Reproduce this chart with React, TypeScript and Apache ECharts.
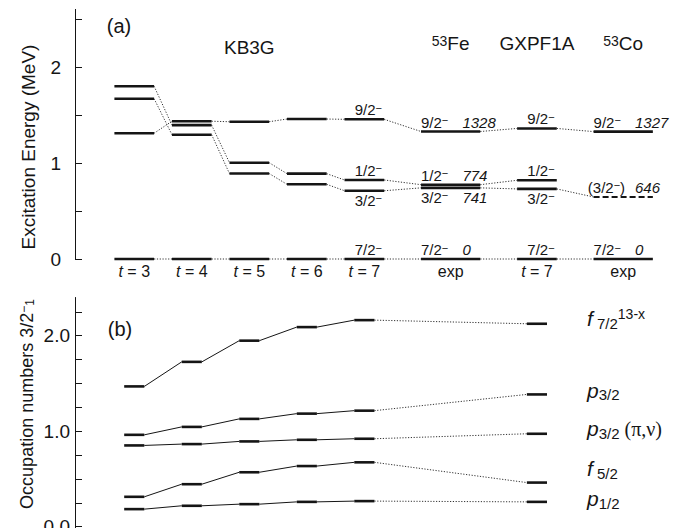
import React, { useEffect, useRef } from 'react';
import * as echarts from 'echarts';

const FONT = '"Liberation Sans", Arial, Helvetica, sans-serif';
const INK = '#151515';

// ---------------- Panel (a): excitation energies (MeV) ----------------
const colPos = [0, 1, 2, 3, 4, 5.5, 7, 8.5];
const colLabels = ['t = 3', 't = 4', 't = 5', 't = 6', 't = 7', 'exp', 't = 7', 'exp'];
const colExp = [false, false, false, false, false, true, false, true];
const e92: (number | null)[] = [1.31, 1.435, 1.43, 1.458, 1.455, 1.328, 1.36, 1.327];
const e12: (number | null)[] = [1.8, 1.395, 1.003, 0.889, 0.823, 0.774, 0.82, null];
const e32: (number | null)[] = [1.67, 1.295, 0.89, 0.778, 0.711, 0.741, 0.73, 0.646];
const e72: (number | null)[] = [0, 0, 0, 0, 0, 0, 0, 0];
const spinNames = ['9/2', '1/2', '3/2', '7/2'];
const feKeV = [1328, 774, 741, 0];
const coKeV: (number | null)[] = [1327, null, 646, 0];
const headerTexts = ['KB3G', '{sup|53}Fe', 'GXPF1A', '{sup|53}Co'];
const headerCols = [2, 5.5, 7, 8.5];

// ---------------- Panel (b): occupation numbers ----------------
const occCols = [0, 1, 2, 3, 4, 7];
const occF72 = [1.469, 1.726, 1.948, 2.09, 2.163, 2.125];
const occP32 = [0.962, 1.045, 1.129, 1.184, 1.215, 1.385];
const occP32pn = [0.851, 0.865, 0.893, 0.91, 0.921, 0.973];
const occF52 = [0.313, 0.445, 0.57, 0.635, 0.674, 0.462];
const occP12 = [0.184, 0.219, 0.236, 0.26, 0.268, 0.26];
const occNames = [
  '{it|f}{sub| 7/2}{sup|13-x}',
  '{it|p}{sub|3/2}',
  '{it|p}{sub|3/2}{gr| (π,ν)}',
  '{it|f}{sub| 5/2}',
  '{it|p}{sub|1/2}',
];
// vertical nudges (px) of the right-hand orbital names
const occNameDy = [-5, -4, -5, -14, -3];

const HW_CALC = 0.345;
const HW_EXP = 0.515;
const HW_OCC = 0.175;

type Seg = number[]; // x1,y1,x2,y2,kind (0 level, 1 dashed level, 2 dotted, 3 thin solid)
type Lbl = {
  x: number; y: number; text: string; align: string; va: string; dy: number;
  size: number; italic?: boolean;
};

function buildA() {
  const sets = [e92, e12, e32, e72];
  const conn: Seg[] = [];
  const lev: Seg[] = [];
  sets.forEach((arr, si) => {
    arr.forEach((v, i) => {
      if (v == null) return;
      const hw = colExp[i] ? HW_EXP : HW_CALC;
      lev.push([colPos[i] - hw, v, colPos[i] + hw, v, i === 7 && si === 2 ? 1 : 0]);
      const nv = arr[i + 1];
      if (i + 1 < arr.length && nv != null) {
        const hw2 = colExp[i + 1] ? HW_EXP : HW_CALC;
        conn.push([colPos[i] + hw, v, colPos[i + 1] - hw2, nv, 2]);
      }
    });
  });
  const labels: Lbl[] = [];
  [4, 5, 6, 7].forEach((c) => {
    const has12 = e12[c] != null;
    sets.forEach((arr, si) => {
      const v = arr[c];
      if (v == null) return;
      const below = si === 2 && has12;
      const va = below ? 'top' : 'bottom';
      const dy = below ? 2 : -2;
      if (!colExp[c]) {
        labels.push({ x: colPos[c] + 0.07, y: v, text: `${spinNames[si]}{m|−}`, align: 'center', va, dy, size: 15 });
      } else {
        const left = colPos[c] - HW_EXP;
        const tentative = c === 7 && si === 2;
        labels.push({
          x: tentative ? left - 0.1 : left, y: v,
          text: tentative ? `(${spinNames[si]}{m|−})` : `${spinNames[si]}{m|−}`,
          align: 'left', va, dy, size: 15,
        });
        const kev = c === 5 ? feKeV[si] : coKeV[si];
        if (kev != null) {
          labels.push({ x: left + 0.72, y: v, text: String(kev), align: 'left', va, dy, size: 15, italic: true });
        }
      }
    });
  });
  headerTexts.forEach((t, i) => {
    labels.push({ x: headerCols[i], y: i === 0 ? 2.2 : 2.24, text: t, align: 'center', va: 'middle', dy: 0, size: 19 });
  });
  return { conn, lev, labels };
}

function buildB() {
  const sets = [occF72, occP32, occP32pn, occF52, occP12];
  const conn: Seg[] = [];
  const lev: Seg[] = [];
  const labels: Lbl[] = [];
  sets.forEach((arr, si) => {
    arr.forEach((v, i) => {
      const x = occCols[i];
      lev.push([x - HW_OCC, v, x + HW_OCC, v, 0]);
      if (i + 1 < arr.length) {
        const nx = occCols[i + 1];
        conn.push([x + HW_OCC, v, nx - HW_OCC, arr[i + 1], nx - x > 1.5 ? 2 : 3]);
      }
    });
    const last = arr.length - 1;
    labels.push({ x: occCols[last] + 0.87, y: arr[last], text: occNames[si], align: 'left', va: 'middle', dy: occNameDy[si], size: 20 });
  });
  return { conn, lev, labels };
}

function segSeries(data: Seg[], gi: number, z: number) {
  return {
    type: 'custom', coordinateSystem: 'cartesian2d', xAxisIndex: gi, yAxisIndex: gi, z,
    silent: true,
    data,
    renderItem: (_p: any, api: any) => {
      const a = api.coord([api.value(0), api.value(1)]);
      const b = api.coord([api.value(2), api.value(3)]);
      const kind = api.value(4);
      let style: any;
      if (kind === 0) style = { stroke: INK, lineWidth: 2.6 };
      else if (kind === 1) style = { stroke: INK, lineWidth: 2, lineDash: [6, 3] };
      else if (kind === 2) style = { stroke: '#333', lineWidth: 1, lineDash: [1.2, 1.6] };
      else style = { stroke: INK, lineWidth: 1 };
      return { type: 'line', shape: { x1: a[0], y1: a[1], x2: b[0], y2: b[1] }, style };
    },
  };
}

const RICH: any = {
  m: { fontSize: 11, verticalAlign: 'top', lineHeight: 11, fontFamily: FONT, fill: INK },
  sup: { fontSize: 14, verticalAlign: 'top', lineHeight: 14, fontFamily: FONT, fill: INK },
  sub: { fontSize: 15, verticalAlign: 'bottom', lineHeight: 15, fontFamily: FONT, fill: INK },
  it: { fontSize: 21, fontStyle: 'italic', lineHeight: 24, fontFamily: FONT, fill: INK },
  gr: { fontSize: 20, fontFamily: '"Liberation Serif", "DejaVu Serif", serif', fill: INK, lineHeight: 24 },
};

function textSeries(labels: Lbl[], gi: number) {
  return {
    type: 'custom', coordinateSystem: 'cartesian2d', xAxisIndex: gi, yAxisIndex: gi, z: 10,
    silent: true,
    data: labels.map((l, i) => [l.x, l.y, i]),
    renderItem: (_p: any, api: any) => {
      const l = labels[api.value(2)];
      const p = api.coord([api.value(0), api.value(1)]);
      return {
        type: 'text',
        x: p[0], y: p[1] + l.dy,
        style: {
          text: l.text, fill: INK, fontSize: l.size, fontFamily: FONT,
          fontStyle: l.italic ? 'italic' : 'normal',
          align: l.align, verticalAlign: l.va, rich: RICH,
        },
      };
    },
  };
}

export default function App() {
  const ref = useRef<HTMLDivElement>(null);
  useEffect(() => {
    document.body.style.margin = '0';
    if (!ref.current) return;
    const chart = echarts.init(ref.current, null, { renderer: 'svg' });
    const A = buildA();
    const B = buildB();
    const xCommon = { type: 'value', min: -1.03, max: 9.4, splitLine: { show: false } };
    const option: any = {
      animation: false,
      backgroundColor: '#ffffff',
      grid: [
        { left: 75, top: 9.4, width: 600, height: 249.6, outerBoundsMode: 'none' },
        { left: 75, top: 297.5, width: 600, height: 238.75, outerBoundsMode: 'none' },
      ],
      xAxis: [
        {
          ...xCommon, gridIndex: 0,
          axisLine: { show: false, onZero: false }, axisTick: { show: false },
          axisLabel: {
            customValues: colPos, margin: 4, fontSize: 16, color: INK, fontFamily: FONT,
            formatter: (v: number) => {
              const i = colPos.indexOf(v);
              const s = i >= 0 ? colLabels[i] : '';
              return s.startsWith('t') ? `{i|t}${s.slice(1)}` : s;
            },
            rich: { i: { fontStyle: 'italic', fontSize: 16, fontFamily: FONT, color: INK } },
          },
        },
        { ...xCommon, gridIndex: 1, show: false, axisLine: { onZero: false } },
      ],
      yAxis: [
        {
          type: 'value', gridIndex: 0, min: 0, max: 2.6,
          splitLine: { show: false },
          axisLine: { show: true, onZero: false, lineStyle: { color: INK, width: 1 } },
          axisTick: { show: true, inside: true, length: 7, customValues: [0, 0.5, 1, 1.5, 2, 2.5], lineStyle: { color: INK } },
          axisLabel: { customValues: [0, 1, 2], margin: 14, fontSize: 19, color: INK, fontFamily: FONT },
        },
        {
          type: 'value', gridIndex: 1, min: -0.1, max: 2.4,
          splitLine: { show: false },
          axisLine: { show: true, onZero: false, lineStyle: { color: INK, width: 1 } },
          axisTick: { show: true, inside: true, length: 7, customValues: [0, 0.25, 0.5, 0.75, 1, 1.25, 1.5, 1.75, 2, 2.25], lineStyle: { color: INK } },
          axisLabel: { customValues: [0, 1, 2], margin: 5, fontSize: 19, color: INK, fontFamily: FONT, formatter: (v: number) => v.toFixed(1) },
        },
      ],
      graphic: [
        { type: 'text', x: 119, y: 26, style: { text: '(a)', fontSize: 20, fontFamily: FONT, fill: INK, align: 'center', verticalAlign: 'middle' } },
        { type: 'text', x: 120, y: 329, style: { text: '(b)', fontSize: 20, fontFamily: FONT, fill: INK, align: 'center', verticalAlign: 'middle' } },
        { type: 'text', x: 28, y: 147, rotation: Math.PI / 2, style: { text: 'Excitation Energy (MeV)', fontSize: 19, fontFamily: FONT, fill: INK, align: 'center', verticalAlign: 'middle' } },
        {
          type: 'text', x: 27, y: 404, rotation: Math.PI / 2,
          style: {
            text: 'Occupation numbers 3/2{sup|−}{sub|1}', fontSize: 18, fontFamily: FONT, fill: INK, align: 'center', verticalAlign: 'middle',
            rich: {
              sup: { fontSize: 12, verticalAlign: 'top', lineHeight: 12, fontFamily: FONT, fill: INK },
              sub: { fontSize: 12, verticalAlign: 'bottom', lineHeight: 12, fontFamily: FONT, fill: INK },
            },
          },
        },
      ],
      series: [
        segSeries(A.conn, 0, 2),
        segSeries(A.lev, 0, 3),
        textSeries(A.labels, 0),
        segSeries(B.conn, 1, 2),
        segSeries(B.lev, 1, 3),
        textSeries(B.labels, 1),
      ],
    };
    chart.setOption(option);
    return () => chart.dispose();
  }, []);
  return <div ref={ref} style={{ width: 681, height: 528 }} />;
}
